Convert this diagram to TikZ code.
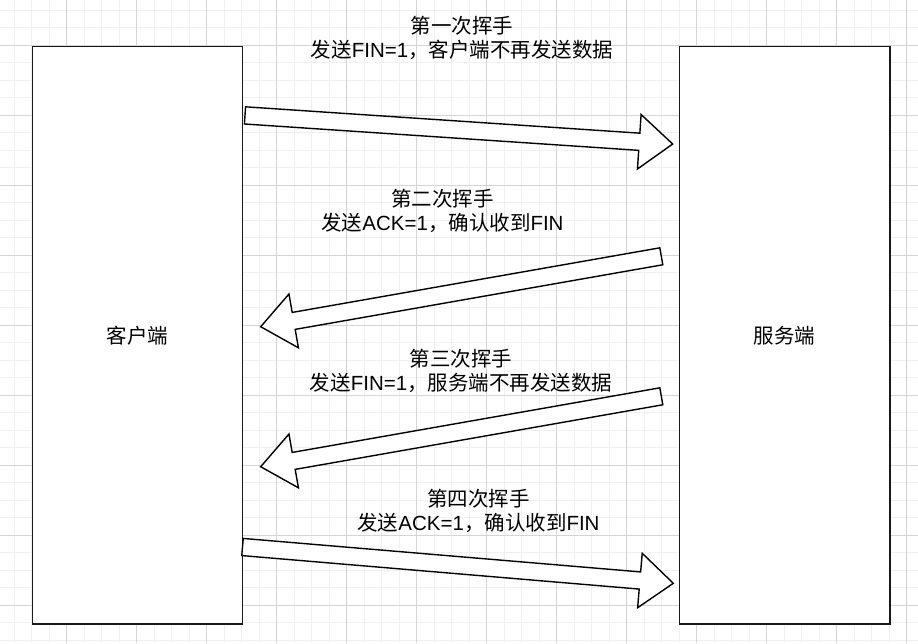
\documentclass[tikz,border=0pt]{standalone}
\usepackage{fontspec}
\setmainfont{Liberation Sans}
\newfontfamily\cjk{Noto Sans CJK SC}
\newcommand{\zh}[1]{{\cjk #1}}
\usetikzlibrary{calc}
\tikzset{
  minorline/.style={draw=black!6, line width=0.8pt},
  majorline/.style={draw=black!17, line width=0.8pt},
  box/.style={draw=black!90, line width=1.5pt, fill=white, minimum width=210pt, minimum height=577.3pt, inner sep=0pt, font=\fontsize{20.5}{24}\selectfont},
  lbl/.style={align=center, inner sep=0pt, font=\fontsize{20.5}{24}\selectfont},
  blockarrow/.style={draw=black, line width=1.4pt, fill=white, line join=miter}
}
\newcommand{\blockarr}[2]{%
  \draw[blockarrow]
    ($(#1)!8.6pt!-90:(#2)$) --
    ($($(#2)!33.5pt!(#1)$)!8.6pt!-90:(#2)$) --
    ($($(#2)!33.5pt!(#1)$)!27.3pt!-90:(#2)$) --
    (#2) --
    ($($(#2)!33.5pt!(#1)$)!27.3pt!90:(#2)$) --
    ($($(#2)!33.5pt!(#1)$)!8.6pt!90:(#2)$) --
    ($(#1)!8.6pt!90:(#2)$) -- cycle;}
\begin{document}
\begin{tikzpicture}[x=1pt,y=-1pt]
\useasboundingbox (0,0) rectangle (918,643);
\fill[white] (0,0) rectangle (918,643);
% grid
\foreach \i in {0,...,53} {\draw[minorline] ({-3.3+17.5*\i},0) -- ({-3.3+17.5*\i},643);}
\foreach \i in {0,...,37} {\draw[minorline] (0,{-7.5+17.5*\i}) -- (918,{-7.5+17.5*\i});}
\foreach \i in {1,...,13} {\draw[majorline] ({-3.3+70*\i},0) -- ({-3.3+70*\i},643);}
\foreach \i in {1,...,9} {\draw[majorline] (0,{-25+70*\i}) -- (918,{-25+70*\i});}
% boxes
\node[box] (client) at (137.3,335.3) {\zh{客户端}};
\node[box, minimum width=210.7pt] (server) at (784.7,335.3) {\zh{服务端}};
% arrow endpoints
\coordinate (a1s) at (245,115.4);
\coordinate (a1e) at (672.7,144);
\coordinate (a2s) at (661.3,256.3);
\coordinate (a2e) at (260.7,326.7);
\coordinate (a3s) at (661.3,396.3);
\coordinate (a3e) at (260.7,466.7);
\coordinate (a4s) at (242.5,547);
\coordinate (a4e) at (673.3,583.3);
\blockarr{a1s}{a1e}
\blockarr{a2s}{a2e}
\blockarr{a3s}{a3e}
\blockarr{a4s}{a4e}
% labels
\node[lbl] (l1) at (462,38) {\zh{第一次挥手}\\\zh{发送}FIN=1\zh{，客户端不再发送数据}};
\node[lbl] (l2) at (442.5,211) {\zh{第二次挥手}\\\zh{发送}ACK=1\zh{，确认收到}FIN};
\node[lbl] (l3) at (461,371) {\zh{第三次挥手}\\\zh{发送}FIN=1\zh{，服务端不再发送数据}};
\node[lbl] (l4) at (478.5,511) {\zh{第四次挥手}\\\zh{发送}ACK=1\zh{，确认收到}FIN};
\end{tikzpicture}
\end{document}
